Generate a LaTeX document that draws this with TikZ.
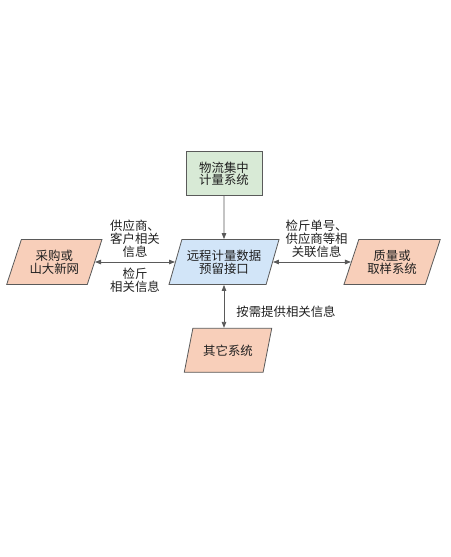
\documentclass[tikz,border=0pt]{standalone}
\usepackage{fontspec}
\setmainfont{Noto Sans CJK SC}
\usepackage{tikz}
\usetikzlibrary{arrows.meta,positioning,shapes.geometric}
\usepackage{xcolor}
\definecolor{boxgreen}{HTML}{D8EAD6}
\definecolor{boxblue}{HTML}{D2E5F8}
\definecolor{boxpeach}{HTML}{F8CFBA}
\definecolor{edgegray}{HTML}{5A5A5A}
\definecolor{txtgray}{HTML}{202020}

\begin{document}
\begin{tikzpicture}[x=1pt, y=-1pt,
  font=\fontsize{12.4pt}{12.8pt}\selectfont, text=txtgray,
  box/.style={draw=edgegray, line width=0.8pt, align=center, inner sep=2pt},
  src/.style={box, fill=boxgreen, minimum width=76pt, minimum height=44pt},
  para/.style={box, trapezium, trapezium left angle=67, trapezium right angle=113,
    trapezium stretches=true, minimum height=45pt},
  hub/.style={para, fill=boxblue, minimum width=110pt},
  sys/.style={para, fill=boxpeach},
  lab/.style={align=center, inner sep=2pt},
  link/.style={draw=edgegray, line width=0.8pt, -{Triangle[length=6pt,width=4.5pt]}},
  both/.style={link, {Triangle[length=6pt,width=4.5pt]}-{Triangle[length=6pt,width=4.5pt]}}]
\useasboundingbox[fill=white] (0,0) rectangle (450,557);
\node[hub] (rc) at (224,262) {远程计量数据\\预留接口};
\node[src, above=43pt of rc] (wl) {物流集中\\计量系统};
\node[sys, minimum width=96pt, left=80pt of rc] (cg) {采购或\\山大新网};
\node[sys, minimum width=97pt, right=78pt of rc] (zl) {质量或\\取样系统};
\node[sys, minimum width=88pt, minimum height=44pt, below=43pt of rc, xshift=4pt] (qt) {其它系统};
\draw[link] (wl) -- (rc);
\draw[both] (cg.east) -- node[lab, above=2pt]{供应商、\\客户相关\\信息}
  node[lab, below=4pt]{检斤\\相关信息} (rc.west);
\draw[both] (rc.east) -- node[lab, above=2pt, pos=0.56]{检斤单号、\\供应商等相\\关联信息} (zl.west);
\draw[both] (rc.south) -- node[lab, right=10pt, yshift=-5pt]{按需提供相关信息} (rc.south |- qt.north);
\end{tikzpicture}
\end{document}
